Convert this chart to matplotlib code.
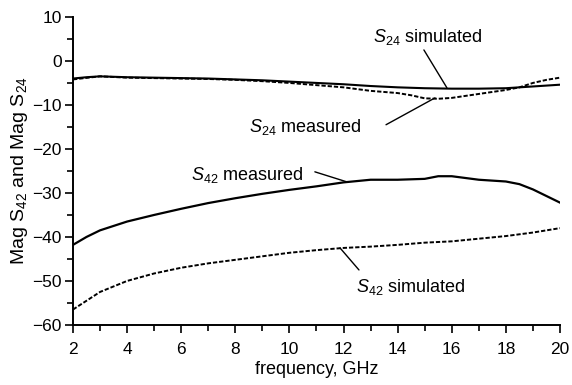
import matplotlib
matplotlib.use("Agg")
import matplotlib.pyplot as plt

fam = 'Liberation Sans'
plt.rcParams['font.family'] = [fam, 'DejaVu Sans']
plt.rcParams['mathtext.fontset'] = 'custom'
plt.rcParams['mathtext.rm'] = fam
plt.rcParams['mathtext.it'] = fam + ':italic'

# Data
freq_s24_sim = [2, 2.5, 3, 4, 5, 6, 7, 8, 9, 10, 11, 12, 13, 14, 15, 16, 17, 18, 19, 20]
s24_sim = [-4.0, -3.7, -3.5, -3.7, -3.8, -3.9, -4.0, -4.2, -4.4, -4.7, -5.0, -5.3, -5.7, -6.0, -6.2, -6.3, -6.3, -6.2, -5.8, -5.4]

freq_s24_meas = [2, 3, 4, 5, 6, 7, 8, 9, 10, 11, 12, 13, 14, 14.5, 15, 15.5, 16, 17, 18, 18.5, 19, 19.5, 20]
s24_meas = [-4.2, -3.5, -3.8, -3.9, -4.0, -4.1, -4.3, -4.6, -5.0, -5.5, -6.0, -6.8, -7.3, -7.8, -8.5, -8.6, -8.4, -7.5, -6.6, -6.0, -5.0, -4.3, -3.8]

freq_s42_meas = [2, 2.5, 3, 4, 5, 6, 7, 8, 9, 10, 11, 12, 13, 14, 15, 15.5, 16, 17, 18, 18.5, 19, 20]
s42_meas = [-41.8, -40.0, -38.5, -36.5, -35.0, -33.6, -32.3, -31.2, -30.2, -29.3, -28.5, -27.6, -27.0, -27.0, -26.8, -26.2, -26.2, -27.0, -27.4, -28.0, -29.2, -32.2]

freq_s42_sim = [2, 2.5, 3, 4, 5, 6, 7, 8, 9, 10, 11, 12, 13, 14, 15, 16, 17, 18, 19, 20]
s42_sim = [-56.5, -54.5, -52.5, -50.0, -48.3, -47.0, -46.0, -45.2, -44.4, -43.6, -43.0, -42.5, -42.2, -41.8, -41.3, -41.0, -40.4, -39.8, -39.0, -38.0]

xticks = [2, 4, 6, 8, 10, 12, 14, 16, 18, 20]
yticks = [10, 0, -10, -20, -30, -40, -50, -60]
ytick_labels = ['10', '0', '\u221210', '\u221220', '\u221230', '\u221240', '\u221250', '\u221260']

fig = plt.figure(figsize=(5.72, 3.85), dpi=100)
ax = fig.add_axes([0.1276, 0.156, 0.979 - 0.1276, 0.956 - 0.156])

dash = (0, (2.2, 1.0))
ax.plot(freq_s24_sim, s24_sim, color='black', lw=1.5)
ax.plot(freq_s24_meas, s24_meas, color='black', lw=1.4, linestyle=dash)
ax.plot(freq_s42_meas, s42_meas, color='black', lw=1.6)
ax.plot(freq_s42_sim, s42_sim, color='black', lw=1.4, linestyle=dash)

ax.set_xlim(2, 20)
ax.set_ylim(-60, 10)
ax.set_xticks(xticks)
ax.set_yticks(yticks)
ax.set_yticklabels(ytick_labels)
ax.set_xticks(range(3, 20, 2), minor=True)
ax.set_yticks(range(-55, 10, 10), minor=True)
ax.tick_params(which='major', direction='out', length=6, width=1.2, labelsize=12.5)
ax.tick_params(axis='x', which='major', pad=6)
ax.tick_params(axis='y', which='major', pad=2)
ax.tick_params(which='minor', direction='out', length=4, width=1.2)
for s in ['top', 'right']:
    ax.spines[s].set_visible(False)
for s in ['left', 'bottom']:
    ax.spines[s].set_linewidth(1.4)

ax.set_xlabel('frequency, GHz', fontsize=13, labelpad=3)
ax.set_ylabel(r'Mag $\mathrm{S}_{42}$ and Mag $\mathrm{S}_{24}$', fontsize=14, labelpad=2)

fs = 13
lp = dict(arrowstyle='-', color='black', lw=1.0, shrinkA=0, shrinkB=0)
ax.text(15.1, 5.4, r'$S_{24}$ simulated', fontsize=fs, ha='center', va='center')
ax.annotate('', xy=(15.82, -6.1), xytext=(14.97, 2.5), arrowprops=lp)
ax.text(10.6, -15.0, r'$S_{24}$ measured', fontsize=fs, ha='center', va='center')
ax.annotate('', xy=(15.38, -8.4), xytext=(13.57, -14.5), arrowprops=lp)
ax.text(8.43, -25.9, r'$S_{42}$ measured', fontsize=fs, ha='center', va='center')
ax.annotate('', xy=(12.13, -27.5), xytext=(10.94, -25.2), arrowprops=lp)
ax.text(14.5, -51.4, r'$S_{42}$ simulated', fontsize=fs, ha='center', va='center')
ax.annotate('', xy=(11.87, -42.5), xytext=(12.57, -47.5), arrowprops=lp)

fig.savefig('out.png', dpi=100)
